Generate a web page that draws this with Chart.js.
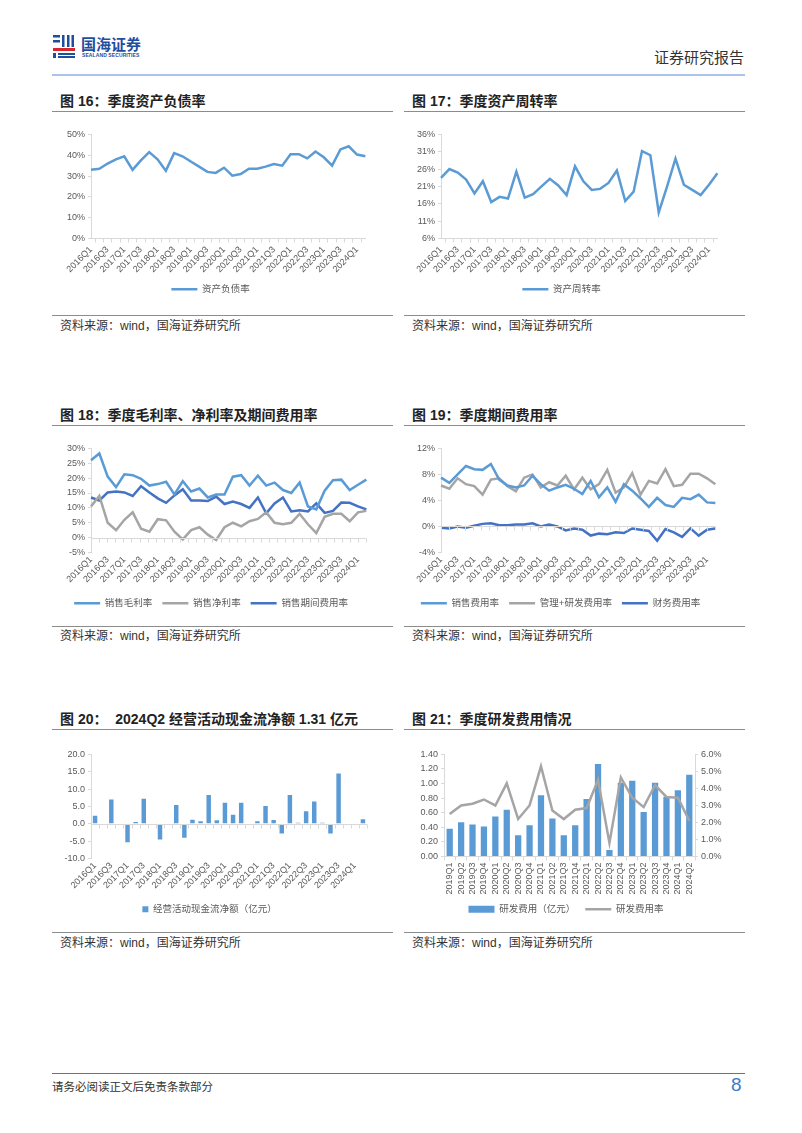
<!DOCTYPE html>
<html>
<head>
<meta charset="utf-8">
<script src="https://cdn.jsdelivr.net/npm/chart.js@4.4.1/dist/chart.umd.min.js"></script>
<style>
  body { margin: 0; width: 802px; height: 1133px; background: #fff; position: relative; overflow: hidden;
         font-family: "Liberation Sans", "Noto Sans CJK SC", sans-serif; color: #222; }
  .abs { position: absolute; }
  .title { font-size: 14px; font-weight: bold; font-family: "Liberation Sans", "Noto Sans CJK SC", sans-serif; white-space: nowrap; }
  .rule { height: 0; border-top: 1.5px solid #8c8c8c; }
  .src { font-size: 12px; color: #333; white-space: nowrap; }
  .box { position: absolute; }
</style>
</head>
<body>

<!-- header -->
<svg class="abs" style="left:53px;top:34px" width="24" height="24" viewBox="0 0 24 24">
  <rect x="0" y="1" width="7" height="2.5" fill="#1f4e9e"/>
  <rect x="0" y="6" width="7" height="2.5" fill="#1f4e9e"/>
  <rect x="9" y="1" width="2.5" height="12" fill="#1f4e9e"/>
  <rect x="14" y="1" width="2.5" height="12" fill="#1f4e9e"/>
  <rect x="18.5" y="1" width="2.5" height="12" fill="#1f4e9e"/>
  <rect x="0" y="14" width="22" height="3" fill="#d8262d"/>
  <rect x="0" y="19" width="3" height="5" fill="#1f4e9e"/>
  <rect x="5" y="19" width="17" height="2" fill="#1f4e9e"/>
  <rect x="5" y="22" width="17" height="2" fill="#1f4e9e"/>
</svg>
<div class="abs" style="left:81px;top:33px;font-size:15px;font-weight:bold;color:#1f4e9e;font-family:'Noto Sans CJK SC'">国海证券</div>
<div class="abs" style="left:82px;top:52px;font-size:5px;font-weight:bold;color:#1f4e9e;letter-spacing:0.1px">SEALAND SECURITIES</div>
<div class="abs" style="left:654px;top:46px;font-size:15px;color:#333;font-family:'Noto Sans CJK SC'">证券研究报告</div>
<div class="abs" style="left:52px;top:74px;width:693px;height:2px;background:#a9c4e8"></div>

<!-- row 1 -->
<div class="abs title" style="left:60px;top:90px">图 16：季度资产负债率</div>
<div class="abs title" style="left:412px;top:90px">图 17：季度资产周转率</div>
<div class="abs rule" style="left:52px;top:111px;width:341px"></div>
<div class="abs rule" style="left:404px;top:111px;width:341px"></div>
<div class="box" style="left:52px;top:126px;width:323px;height:178px"><canvas id="c16"></canvas></div>
<div class="box" style="left:402px;top:126px;width:325px;height:178px"><canvas id="c17"></canvas></div>
<div class="abs rule" style="left:52px;top:315px;width:341px"></div>
<div class="abs rule" style="left:404px;top:315px;width:341px"></div>
<div class="abs src" style="left:60px;top:316px">资料来源：wind，国海证券研究所</div>
<div class="abs src" style="left:412px;top:316px">资料来源：wind，国海证券研究所</div>

<!-- row 2 -->
<div class="abs title" style="left:60px;top:404px">图 18：季度毛利率、净利率及期间费用率</div>
<div class="abs title" style="left:412px;top:404px">图 19：季度期间费用率</div>
<div class="abs rule" style="left:52px;top:425px;width:341px"></div>
<div class="abs rule" style="left:404px;top:425px;width:341px"></div>
<div class="box" style="left:52px;top:440px;width:324px;height:178px"><canvas id="c18"></canvas></div>
<div class="box" style="left:402px;top:440px;width:323px;height:178px"><canvas id="c19"></canvas></div>
<div class="abs rule" style="left:52px;top:626px;width:341px"></div>
<div class="abs rule" style="left:404px;top:626px;width:341px"></div>
<div class="abs src" style="left:60px;top:626px">资料来源：wind，国海证券研究所</div>
<div class="abs src" style="left:412px;top:626px">资料来源：wind，国海证券研究所</div>

<!-- row 3 -->
<div class="abs title" style="left:60px;top:708px">图 20：&nbsp;&nbsp;2024Q2 经营活动现金流净额 1.31 亿元</div>
<div class="abs title" style="left:412px;top:708px">图 21：季度研发费用情况</div>
<div class="abs rule" style="left:52px;top:729px;width:341px"></div>
<div class="abs rule" style="left:404px;top:729px;width:341px"></div>
<div class="box" style="left:52px;top:746px;width:321px;height:178px"><canvas id="c20"></canvas></div>
<div class="box" style="left:404px;top:746px;width:324px;height:178px"><canvas id="c21"></canvas></div>
<div class="abs rule" style="left:52px;top:932px;width:341px"></div>
<div class="abs rule" style="left:404px;top:932px;width:341px"></div>
<div class="abs src" style="left:60px;top:933px">资料来源：wind，国海证券研究所</div>
<div class="abs src" style="left:412px;top:933px">资料来源：wind，国海证券研究所</div>

<!-- footer -->
<div class="abs" style="left:52px;top:1073px;width:693px;height:1px;background:#3d7cc9"></div>
<div class="abs" style="left:52px;top:1078px;font-size:11.5px;color:#333;font-family:'Noto Sans CJK SC'">请务必阅读正文后免责条款部分</div>
<div class="abs" style="left:731px;top:1074px;font-size:19px;color:#3d7cc9">8</div>

<script>
'use strict';

/* ───────── DATA ───────── */
const QUARTERS = [
  '2016Q1','2016Q2','2016Q3','2016Q4','2017Q1','2017Q2','2017Q3','2017Q4',
  '2018Q1','2018Q2','2018Q3','2018Q4','2019Q1','2019Q2','2019Q3','2019Q4',
  '2020Q1','2020Q2','2020Q3','2020Q4','2021Q1','2021Q2','2021Q3','2021Q4',
  '2022Q1','2022Q2','2022Q3','2022Q4','2023Q1','2023Q2','2023Q3','2023Q4',
  '2024Q1','2024Q2'
];
const RD_QUARTERS = [
  '2019Q1','2019Q2','2019Q3','2019Q4','2020Q1','2020Q2','2020Q3','2020Q4',
  '2021Q1','2021Q2','2021Q3','2021Q4','2022Q1','2022Q2','2022Q3','2022Q4',
  '2023Q1','2023Q2','2023Q3','2023Q4','2024Q1','2024Q2'
];

// 图16 资产负债率 (%)
const debtRatio = [33,33.5,36,38,39.5,33,37.5,41.5,38,32.5,41,39.5,37,34.5,32,31.5,
  34,30.2,31,33.5,33.5,34.5,35.8,35,40.5,40.5,38.5,41.8,39,35,42.8,44.3,40.3,39.5];

// 图17 资产周转率 (%)
const turnover = [23.5,26,25,23,19,22.5,16.5,18,17.5,25.3,17.8,18.8,21,23.2,21.3,18.5,
  26.8,22.5,20,20.3,22,25.6,16.8,19.5,31.2,30,13.5,21,29,21.5,20,18.5,21.5,24.8];

// 图18 (%)
const grossMargin = [26,28.3,20.5,17,21.3,21,19.8,17.5,18,18.8,14.5,19,15.5,16.5,13.5,14.5,
  14.5,20.5,21,17.5,20.8,17.5,18.5,16,15,18.5,10.5,9.5,15.8,19.3,19.5,16,17.8,19.5];
const netMargin = [10.5,14,5,2.5,6,8.5,3,2,6.2,5.8,2,-0.6,2.5,3.5,1,-0.8,
  3.5,5,3.8,5.5,6.3,8.5,5,4.5,5,8,4.5,1.5,7,8,8,5.5,8.5,9];
const periodExp = [13.5,12.5,15.2,15.5,15.2,14,17.3,15.2,13.2,11.7,14.2,16.3,12.5,12.5,12.3,13.8,
  11.3,12.1,11.3,10,13.5,8.2,11.5,13.5,8.8,9.2,8.8,11.5,8.3,9,11.8,11.7,10.5,9.5];

// 图19 (%)
const sellExp = [7.5,6.7,8,9.3,8.8,8.7,9.6,7.2,6.3,6,6.3,7.8,6.5,5.5,6,6.4,
  5.8,5,7,4.5,6,3.8,6.5,5.5,4.3,3,4.4,3.3,3,4.4,4.2,4.9,3.7,3.6];
const mgmtRdExp = [6.3,5.8,7.4,6.5,6.2,4.9,7.2,7.4,6.2,5.4,7.5,8,6,6.8,6.3,7.8,
  5.7,7.5,5.7,6.5,8.7,5.2,6,8.2,4.9,7,6.6,8.8,6.2,6.4,8.1,8.1,7.4,6.5];
const finExp = [-0.2,-0.3,0,-0.2,0.1,0.4,0.5,0.2,0.2,0.3,0.3,0.5,0,0.3,0,-0.6,
  -0.3,-0.5,-1.4,-1.1,-1.2,-0.9,-1,-0.3,-0.5,-0.7,-2.2,-0.4,-0.9,-1.6,-0.3,-1.4,-0.5,-0.3];

// 图20 经营活动现金流净额 (亿元)
const opCashFlow = [2.3,-0.2,7.0,0,-5.3,0.5,7.2,0,-4.5,0,5.4,-4.0,1.2,0.7,8.3,1.0,
  6.1,2.6,6.1,0,0.7,5.1,1.1,-2.8,8.3,0.3,3.6,6.4,0.3,-2.8,14.5,-0.2,0,1.3];

// 图21 研发费用 (亿元) / 研发费用率 (%)
const rdExpense = [0.38,0.47,0.44,0.41,0.55,0.64,0.29,0.43,0.84,0.52,0.29,0.43,
  0.79,1.27,0.09,1.01,1.04,0.61,1.01,0.82,0.91,1.12];
const rdRatio = [2.5,3.0,3.1,3.35,3.0,4.3,2.2,3.0,5.3,2.7,2.2,2.75,
  2.85,4.5,0.8,4.65,3.45,2.9,4.2,3.5,3.45,2.1];

/* ───────── STYLE ───────── */
const C_LIGHT = '#5b9bd5';
const C_GRAY  = '#a5a5a5';
const C_DARK  = '#4472c4';
const AXIS    = '#d9d9d9';
const TICK    = '#595959';
const FONT    = { family: "'Liberation Sans', 'Noto Sans CJK SC', sans-serif", size: 9 };

Chart.defaults.font = FONT;
Chart.defaults.color = TICK;
Chart.defaults.animation = false;

// horizontal axis line with tick marks drawn at value 0
const zeroAxis = {
  id: 'zeroAxis',
  afterDatasetsDraw(chart, args, opts) {
    if (!opts.on) return;
    const { ctx, scales: { x, y } } = chart;
    const y0 = Math.round(y.getPixelForValue(0)) + 0.5;
    ctx.save();
    ctx.strokeStyle = AXIS;
    ctx.lineWidth = 1;
    ctx.beginPath();
    ctx.moveTo(x.left, y0); ctx.lineTo(x.right, y0);
    const n = x.ticks.length;
    for (let i = 0; i <= n; i++) {
      const px = Math.round(x.left + (x.right - x.left) * i / n) + 0.5;
      ctx.moveTo(px, y0); ctx.lineTo(px, y0 + 4);
    }
    ctx.stroke();
    ctx.restore();
  }
};
Chart.register(zeroAxis);

function everyOther(v, i) { return i % 2 === 0 ? this.getLabelForValue(v) : ''; }

function lineDs(label, data, color) {
  return { type: 'line', label, data, borderColor: color, backgroundColor: color, borderWidth: 2.5,
           pointRadius: 0, tension: 0, pointStyle: 'line' };
}

function legendOpts(extra = {}) {
  return {
    position: 'bottom',
    labels: { usePointStyle: true, pointStyleWidth: 26, boxHeight: 9, padding: 10, color: TICK,
              font: { ...FONT, size: 9.5 }, sort: (a, b) => a.datasetIndex - b.datasetIndex, ...extra }
  };
}

function yAxis(min, max, step, fmt, width) {
  return {
    min, max,
    ticks: { stepSize: step, callback: fmt, padding: 3, color: TICK },
    grid: { drawOnChartArea: false, drawTicks: true, tickLength: 3, color: AXIS },
    border: { color: AXIS },
    afterFit(a) { a.width = width; }
  };
}

function xQuarter(height, bottomAxis) {
  return {
    ticks: { autoSkip: false, maxRotation: 45, minRotation: 45, callback: everyOther, padding: 2, color: TICK },
    grid: { drawOnChartArea: false, drawTicks: !!bottomAxis, tickLength: 4, color: AXIS, offset: true },
    border: { display: !!bottomAxis, color: AXIS },
    afterFit(a) { a.height = height; }
  };
}

const pct0 = v => v + '%';

function lineChart(id, datasets, ymin, ymax, step, zero) {
  new Chart(document.getElementById(id), {
    data: { labels: QUARTERS, datasets },
    options: {
      responsive: true, maintainAspectRatio: false,
      layout: { padding: { top: 6, right: 6, left: 0, bottom: 0 } },
      plugins: { legend: legendOpts(), tooltip: { enabled: false }, zeroAxis: { on: zero } },
      scales: { x: xQuarter(36, !zero), y: yAxis(ymin, ymax, step, pct0, 39) }
    }
  });
}

/* ───────── CHARTS ───────── */
lineChart('c16', [lineDs('资产负债率', debtRatio, C_LIGHT)], 0, 50, 10, false);
lineChart('c17', [lineDs('资产周转率', turnover, C_LIGHT)], 6, 36, 5, false);
lineChart('c18', [
  lineDs('销售毛利率', grossMargin, C_LIGHT),
  lineDs('销售净利率', netMargin, C_GRAY),
  lineDs('销售期间费用率', periodExp, C_DARK)
], -5, 30, 5, true);
lineChart('c19', [
  lineDs('销售费用率', sellExp, C_LIGHT),
  lineDs('管理+研发费用率', mgmtRdExp, C_GRAY),
  lineDs('财务费用率', finExp, C_DARK)
], -4, 12, 2, true);

new Chart(document.getElementById('c20'), {
  type: 'bar',
  data: { labels: QUARTERS, datasets: [{
    label: '经营活动现金流净额（亿元）', data: opCashFlow, backgroundColor: C_LIGHT,
    barPercentage: 0.55, categoryPercentage: 1, pointStyle: 'rect'
  }] },
  options: {
    responsive: true, maintainAspectRatio: false,
    layout: { padding: { top: 6, right: 6, left: 0, bottom: 0 } },
    plugins: { legend: legendOpts({ pointStyleWidth: 6, boxHeight: 6 }), tooltip: { enabled: false }, zeroAxis: { on: true } },
    scales: { x: xQuarter(36, false), y: yAxis(-10, 20, 5, v => v.toFixed(1), 39) }
  }
});

new Chart(document.getElementById('c21'), {
  data: { labels: RD_QUARTERS, datasets: [
    { type: 'bar', label: '研发费用（亿元）', data: rdExpense, backgroundColor: C_LIGHT,
      barPercentage: 0.55, categoryPercentage: 1, pointStyle: 'rect', yAxisID: 'y', order: 2 },
    { ...lineDs('研发费用率', rdRatio, C_GRAY), yAxisID: 'y1', order: 1 }
  ] },
  options: {
    responsive: true, maintainAspectRatio: false,
    layout: { padding: { top: 6, right: 0, left: 0, bottom: 0 } },
    plugins: { legend: legendOpts({ boxHeight: 7 }), tooltip: { enabled: false } },
    scales: {
      x: {
        ticks: { autoSkip: false, maxRotation: 90, minRotation: 90, padding: 2, color: TICK },
        grid: { drawOnChartArea: false, tickLength: 4, color: AXIS, offset: true },
        border: { color: AXIS },
        afterFit(a) { a.height = 38; }
      },
      y: yAxis(0, 1.4, 0.2, v => v.toFixed(2), 40),
      y1: { ...yAxis(0, 6, 1, v => v.toFixed(1) + '%', 33), position: 'right' }
    }
  }
});
</script>
</body>
</html>
